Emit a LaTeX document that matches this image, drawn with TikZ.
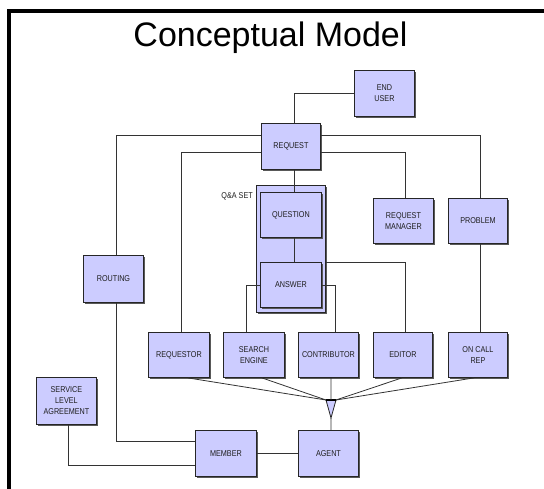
\documentclass[tikz,border=0pt]{standalone}
\usepackage{fontspec}
\setmainfont{Liberation Sans}
\newfontfamily\boxfont[FakeStretch=0.85]{Liberation Sans}
\usetikzlibrary{shadows}
\definecolor{lav}{RGB}{204,204,255}
\definecolor{txt}{RGB}{30,30,30}
\begin{document}
\begin{tikzpicture}[x=1pt,y=-1pt,
  box/.style={draw=black!85, line width=0.9pt, fill=lav, anchor=north west,
    inner sep=0pt, align=center, text=txt,
    font=\boxfont\fontsize{8.5}{11}\selectfont,
    drop shadow={shadow xshift=1.8pt, shadow yshift=-1.8pt, fill=black!65, opacity=1}},
  conn/.style={draw=black!80, line width=0.8pt},
  lbl/.style={text=txt, font=\boxfont\fontsize{8.5}{11}\selectfont, inner sep=0pt}]
\useasboundingbox (0,0) rectangle (544,489);
% frame
\fill[black] (7,9) rectangle (544,13);
\fill[black] (7,9) rectangle (11,489);
% title
\node[anchor=base, font=\fontsize{34}{40}\selectfont, inner sep=0pt] (title) at (270.5,47) {Conceptual Model};
% boxes
\node[box, minimum width=60pt, minimum height=46pt] (enduser) at (354,70) {END\\USER};
\node[box, minimum width=59pt, minimum height=46pt] (request) at (261,123) {REQUEST};
\node[box, minimum width=69pt, minimum height=127pt] (qaset) at (256,185) {};
\node[lbl, anchor=east] (qalbl) at (253,196) {Q\&A SET};
\node[box, minimum width=61pt, minimum height=45pt] (question) at (260,192) {QUESTION};
\node[box, minimum width=61pt, minimum height=45pt] (answer) at (260,262) {ANSWER};
\node[box, minimum width=60pt, minimum height=45pt] (reqmgr) at (373,198) {REQUEST\\MANAGER};
\node[box, minimum width=59pt, minimum height=45pt] (problem) at (448,198) {PROBLEM};
\node[box, minimum width=60pt, minimum height=47pt] (routing) at (83,255) {ROUTING};
\node[box, minimum width=61pt, minimum height=45pt] (requestor) at (148,332) {REQUESTOR};
\node[box, minimum width=61pt, minimum height=45pt] (search) at (223,332) {SEARCH\\ENGINE};
\node[box, minimum width=60pt, minimum height=45pt] (contrib) at (298,332) {CONTRIBUTOR};
\node[box, minimum width=59pt, minimum height=45pt] (editor) at (373,332) {EDITOR};
\node[box, minimum width=59pt, minimum height=45pt] (oncall) at (448,332) {ON CALL\\REP};
\node[box, minimum width=60pt, minimum height=47pt] (sla) at (36,377) {SERVICE\\LEVEL\\AGREEMENT};
\node[box, minimum width=61pt, minimum height=46pt] (member) at (195,430) {MEMBER};
\node[box, minimum width=60pt, minimum height=46pt] (agent) at (298,430) {AGENT};
% triangle junction
\coordinate (tl) at (326,400);
\coordinate (tr) at (336,400);
\coordinate (tm) at (331,400);
\coordinate (tip) at (331,418);
\filldraw[fill=lav, draw=black!85, line width=0.8pt] (tl) -- (tr) -- (tip) -- cycle;
\draw[black, line width=1.8pt] (tl) -- (tr);
% connectors
\draw[conn] (enduser.west) -| ([xshift=3pt]request.north);
\draw[conn] ([yshift=11pt]request.west) -| ([xshift=2.5pt]routing.north);
\draw[conn] ([yshift=11pt]request.east) -| ([xshift=2pt]problem.north);
\draw[conn] ([yshift=-6pt]request.west) -| ([xshift=2pt]requestor.north);
\draw[conn] ([yshift=-6pt]request.east) -| ([xshift=1.5pt]reqmgr.north);
\draw[conn] ([xshift=3pt]request.south) -- ([xshift=3pt]question.north);
\draw[conn] ([xshift=3pt]question.south) -- ([xshift=3pt]answer.north);
\draw[conn] (qaset.east |- answer.north) -| ([xshift=2pt]editor.north);
\draw[conn] (answer.west) -| ([xshift=-7.5pt]search.north);
\draw[conn] (answer.east) -| ([xshift=7pt]contrib.north);
\draw[conn] ([xshift=2pt]problem.south) -- ([xshift=2pt]oncall.north);
\draw[conn] ([xshift=2.5pt]routing.south) |- ([yshift=12pt]member.west);
\draw[conn] ([xshift=1.5pt]sla.south) |- ([yshift=-12pt]member.west);
\draw[conn] (member.east) -- (agent.west);
\draw[conn] ([xshift=2.5pt]contrib.south) -- (tm);
\draw[conn] (tip) -- ([xshift=2.5pt]agent.north);
\draw[conn] ([xshift=9pt]requestor.south) -- (tl);
\draw[conn] ([xshift=8pt]search.south) -- (tl);
\draw[conn] ([xshift=-1pt]editor.south) -- (tr);
\draw[conn] ([xshift=-4pt]oncall.south) -- (tr);
\end{tikzpicture}
\end{document}
